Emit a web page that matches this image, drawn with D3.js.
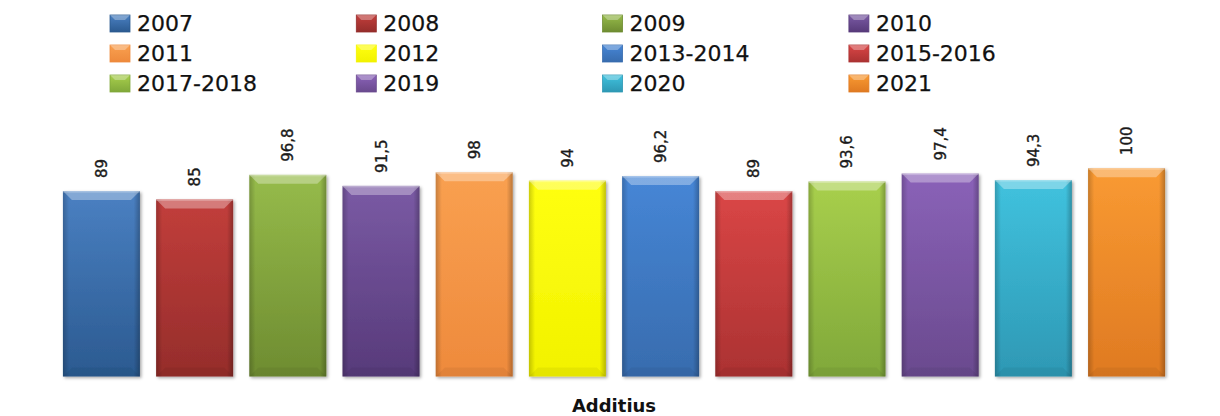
<!DOCTYPE html>
<html>
<head>
<meta charset="utf-8">
<script src="https://cdn.jsdelivr.net/npm/d3@7"></script>
<style>
  html, body { margin: 0; padding: 0; background: #fff; }
  svg { display: block; }
</style>
</head>
<body>
<svg id="chart" width="1220" height="416"></svg>
<script>
// ---- data ----
const category = "Additius";
const seriesNames = ["2007", "2008", "2009", "2010", "2011", "2012", "2013-2014", "2015-2016", "2017-2018", "2019", "2020", "2021"];
const seriesValues = [89, 85, 96.8, 91.5, 98, 94, 96.2, 89, 93.6, 97.4, 94.3, 100];
const valueLabels = ["89", "85", "96,8", "91,5", "98", "94", "96,2", "89", "93,6", "97,4", "94,3", "100"];
const colorsTop = ["#4a80c2", "#c23e3b", "#96bb4a", "#7a5aa4", "#f9a050", "#ffff10", "#4686d6", "#da4646", "#a8cf4c", "#8a62b8", "#40c2de", "#f99a32"];
const colorsBottom = ["#2b5a90", "#952d2b", "#6e8c31", "#573a7a", "#ee8a3c", "#f2f200", "#386cae", "#ab3232", "#80a83a", "#6a4a8e", "#2e98b4", "#df7a22"];

const svg = d3.select("#chart");
const plotLeft = 10, plotRight = 1218, baseY = 376.5;

const x = d3.scaleBand().domain(seriesNames).range([plotLeft, plotRight]).paddingInner(0.174).paddingOuter(0.568);
const y = d3.scaleLinear().domain([0, 120]).range([baseY, baseY - 250]);

const defs = svg.append("defs");
seriesNames.forEach((s, i) => {
  const g = defs.append("linearGradient").attr("id", "g" + i).attr("x1", 0).attr("y1", 0).attr("x2", 0).attr("y2", 1);
  g.append("stop").attr("offset", "0%").attr("stop-color", colorsTop[i]);
  g.append("stop").attr("offset", "100%").attr("stop-color", colorsBottom[i]);
  const h = defs.append("linearGradient").attr("id", "h" + i).attr("x1", 0).attr("y1", 0).attr("x2", 1).attr("y2", 0);
  h.append("stop").attr("offset", "0%").attr("stop-color", "#000").attr("stop-opacity", 0.2);
  h.append("stop").attr("offset", "8%").attr("stop-color", "#000").attr("stop-opacity", 0);
  h.append("stop").attr("offset", "92%").attr("stop-color", "#000").attr("stop-opacity", 0);
  h.append("stop").attr("offset", "100%").attr("stop-color", "#000").attr("stop-opacity", 0.25);
});
const filt = defs.append("filter").attr("id", "shadow").attr("x", "-10%").attr("y", "-10%").attr("width", "125%").attr("height", "125%");
filt.append("feDropShadow").attr("dx", 1.5).attr("dy", 1.5).attr("stdDeviation", 1.5).attr("flood-color", "#000").attr("flood-opacity", 0.35);

// axis line
svg.append("line")
  .attr("x1", plotLeft).attr("x2", plotRight)
  .attr("y1", baseY + 1).attr("y2", baseY + 1)
  .attr("stroke", "#9a9a9a").attr("stroke-width", 2)
  .attr("filter", "url(#shadow)");

// bars
const bars = svg.append("g").selectAll("g.bar").data(seriesNames).join("g").attr("class", "bar");
bars.each(function (s, i) {
  const g = d3.select(this);
  const x0 = x(s), bw = x.bandwidth();
  const top = y(seriesValues[i]);
  const hgt = y(0) - top;
  g.append("rect").attr("x", x0).attr("y", top).attr("width", bw).attr("height", hgt)
    .attr("fill", `url(#g${i})`).attr("filter", "url(#shadow)");
  g.append("rect").attr("x", x0).attr("y", top).attr("width", bw).attr("height", hgt)
    .attr("fill", `url(#h${i})`);
  const b = 9;
  g.append("path")
    .attr("d", `M${x0},${top} L${x0 + bw},${top} L${x0 + bw - b},${top + b} L${x0 + b},${top + b} Z`)
    .attr("fill", "#fff").attr("fill-opacity", 0.32);
  g.append("rect").attr("x", x0).attr("y", top).attr("width", bw).attr("height", 1.5)
    .attr("fill", "#fff").attr("fill-opacity", 0.25);
  g.append("path")
    .attr("d", `M${x0},${y(0)} L${x0 + bw},${y(0)} L${x0 + bw - b},${y(0) - b} L${x0 + b},${y(0) - b} Z`)
    .attr("fill", "#000").attr("fill-opacity", 0.05);
  const cx = x0 + bw / 2;
  g.append("text")
    .attr("transform", `translate(${cx + 5.5},${top - 13}) rotate(-90)`)
    .attr("text-anchor", "start")
    .attr("font-family", "DejaVu Sans, Verdana, sans-serif")
    .attr("font-size", 15)
    .attr("fill", "#1a1a1a")
    .attr("stroke", "#1a1a1a").attr("stroke-width", 0.35)
    .text(valueLabels[i]);
});

// category title
svg.append("text")
  .attr("x", (plotLeft + plotRight) / 2).attr("y", 412)
  .attr("text-anchor", "middle")
  .attr("font-family", "DejaVu Sans, Verdana, sans-serif")
  .attr("font-weight", "bold")
  .attr("font-size", 18)
  .attr("fill", "#111")
  .text(category);

// legend
const legCols = 4, legX0 = 110, legColW = 246.3, legY0 = 15, legRowH = 30;
const leg = svg.append("g").selectAll("g.leg").data(seriesNames).join("g").attr("class", "leg")
  .attr("transform", (d, i) => `translate(${legX0 + (i % legCols) * legColW},${legY0 + Math.floor(i / legCols) * legRowH})`);
leg.append("rect").attr("width", 20).attr("height", 17).attr("fill", (d, i) => `url(#g${i})`)
  .attr("stroke", (d, i) => colorsBottom[i]).attr("stroke-width", 0.8);
leg.append("path").attr("d", "M0,0 L20,0 L15,5 L5,5 Z").attr("fill", "#fff").attr("fill-opacity", 0.3);
leg.append("text").attr("x", 27).attr("y", 16)
  .attr("font-family", "DejaVu Sans, Verdana, sans-serif")
  .attr("font-size", 22)
  .attr("fill", "#111")
  .attr("stroke", "#111").attr("stroke-width", 0.25)
  .text(d => d);
</script>
</body>
</html>
